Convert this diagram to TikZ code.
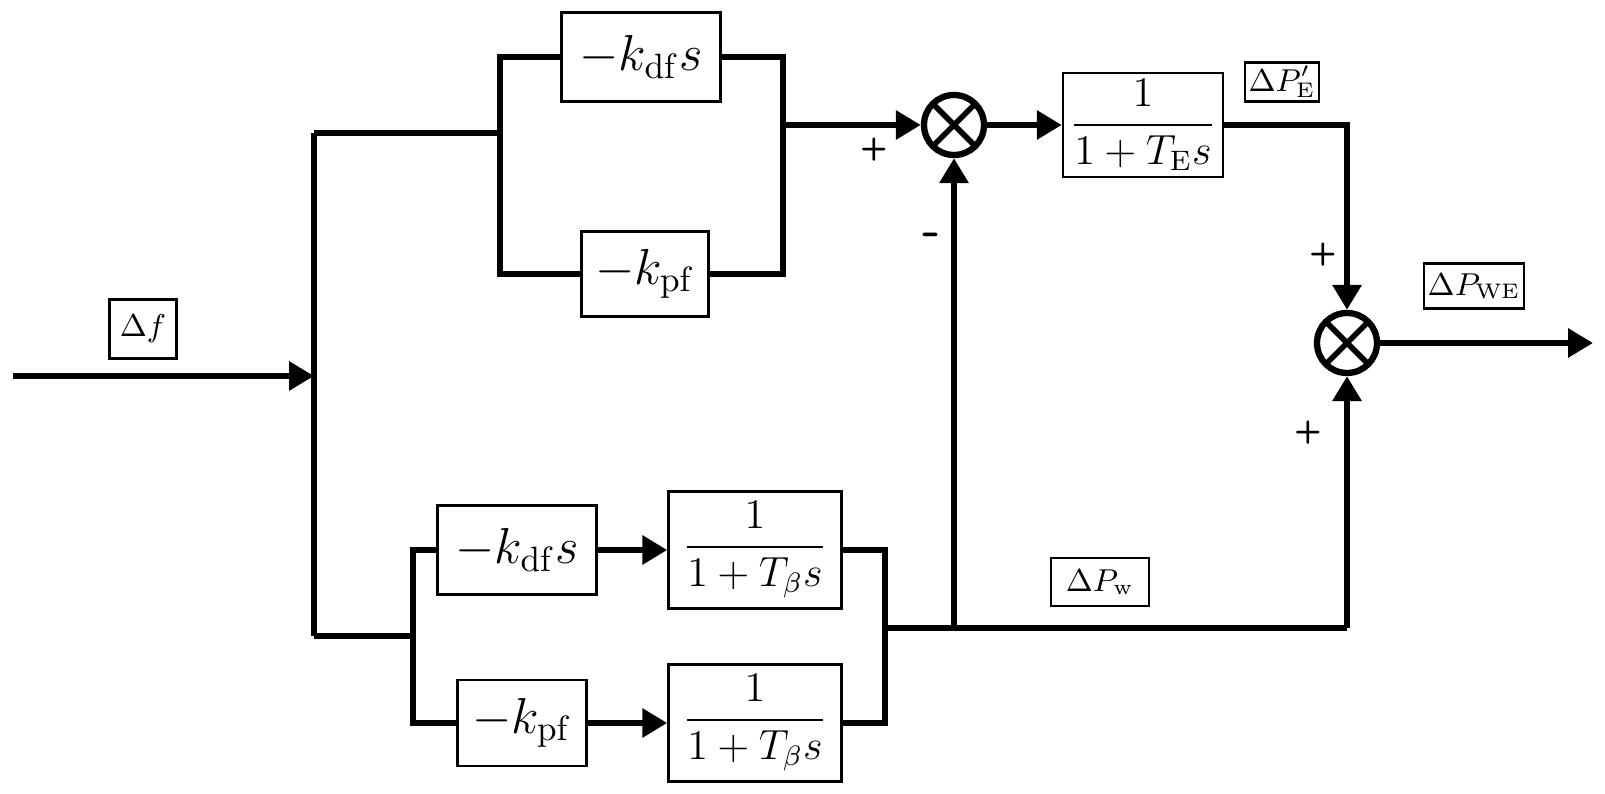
\documentclass[tikz,border=0pt]{standalone}
\usepackage{amsmath}
\usepackage{tikz}
\usetikzlibrary{arrows.meta}

\tikzset{
  sig/.style={line width=1.9pt},
  arr/.style={sig,-{Triangle[length=2.5mm,width=2.8mm]}},
  blk/.style={draw,line width=0.7pt,inner sep=0pt,fill=white},
  lbl/.style={draw,line width=0.6pt,inner sep=1pt,font=\small},
  sgn/.style={font=\sffamily\bfseries\small},
  sumnode/.style={circle,draw,line width=1.8pt,minimum size=0.6cm,inner sep=0pt,
    path picture={\draw[line width=1.6pt]
      (path picture bounding box.north west)--(path picture bounding box.south east)
      (path picture bounding box.south west)--(path picture bounding box.north east);}}
}

\begin{document}
\begin{tikzpicture}
\useasboundingbox (0,0) rectangle (16.05,7.94);
%\draw[step=0.5cm,gray,very thin] (0,0) grid (16,8);

\node[blk,font=\Large,minimum width=1.59cm,minimum height=0.89cm] (kds1) at (6.41,7.37) {$-k_{\mathrm{df}}s$};
\node[blk,font=\Large,minimum width=1.27cm,minimum height=0.85cm] (kp1) at (6.45,5.20) {$-k_{\mathrm{pf}}$};
\node[blk,font=\Large,minimum width=1.59cm,minimum height=0.89cm] (kds2) at (5.17,2.44) {$-k_{\mathrm{df}}s$};
\node[blk,font=\Large,minimum width=1.29cm,minimum height=0.86cm] (kp2) at (5.22,0.71) {$-k_{\mathrm{pf}}$};
\node[blk,font=\large,minimum width=1.60cm,minimum height=1.04cm] (te) at (11.43,6.69) {$\dfrac{1}{1+T_{\mathrm{E}}s}$};
\node[blk,font=\large,minimum width=1.73cm,minimum height=1.17cm] (tb1) at (7.55,2.44) {$\dfrac{1}{1+T_{\beta}s}$};
\node[blk,font=\large,minimum width=1.73cm,minimum height=1.17cm] (tb2) at (7.55,0.71) {$\dfrac{1}{1+T_{\beta}s}$};

\node[sumnode] (s1) at (9.54,6.69) {};
\node[sumnode] (s2) at (13.47,4.51) {};

\node[lbl,minimum width=0.67cm,minimum height=0.59cm] (df) at (1.43,4.65) {$\Delta f$};
\node[lbl,minimum width=0.70cm,minimum height=0.39cm] (pe) at (12.82,7.12) {$\Delta P'_{\mathrm{E}}$};
\node[lbl,minimum width=0.88cm,minimum height=0.45cm] (pwe) at (14.74,5.08) {$\Delta P_{\mathrm{WE}}$};
\node[lbl,minimum width=0.98cm,minimum height=0.48cm] (pw) at (11.00,2.12) {$\Delta P_{\mathrm{w}}$};

\node[sgn] (p1) at (8.74,6.44) {+};
\node[sgn,font=\sffamily\bfseries\Large] (m1) at (9.32,5.54) {-};
\node[sgn] (p2) at (13.23,5.39) {+};
\node[sgn] (p3) at (13.08,3.61) {+};

\coordinate (in) at (0.13,4.18);
\coordinate (j1) at (3.14,4.18);
\coordinate (jt) at (3.14,6.61);
\coordinate (jb) at (3.14,1.58);
\coordinate (ta) at (5.00,6.61);
\coordinate (tb) at (7.83,6.69);
\coordinate (lb) at (4.13,1.58);
\coordinate (mb) at (8.85,1.66);
\coordinate (bs1) at (9.54,1.66);
\coordinate (bs2) at (13.47,1.66);
\coordinate (out) at (15.93,4.51);

\draw[arr] (in) -- (j1);
\draw[sig] (jt) -- (jb);
\draw[sig] (jt) -- (ta);
\draw[sig] (kds1.west) -| (ta) |- (kp1.west);
\draw[sig] (kds1.east) -| (tb) |- (kp1.east);
\draw[arr] (tb) -- (s1);
\draw[arr] (s1) -- (te);
\draw[arr] (te.east) -| (s2);
\draw[arr] (s2) -- (out);

\draw[sig] (jb) -- (lb);
\draw[sig] (kds2.west) -| (lb) |- (kp2.west);
\draw[arr] (kds2) -- (tb1);
\draw[arr] (kp2) -- (tb2);
\draw[sig] (tb1.east) -| (mb) |- (tb2.east);
\draw[sig] (mb) -- (bs2);
\draw[arr] (bs1) -- (s1);
\draw[arr] (bs2) -- (s2);
\end{tikzpicture}
\end{document}
